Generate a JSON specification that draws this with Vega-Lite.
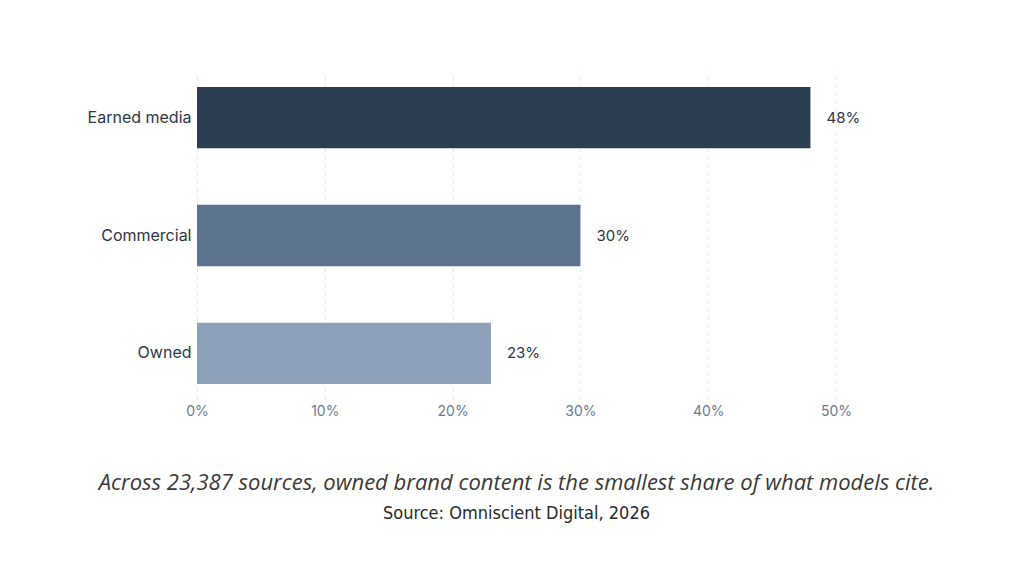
{
  "$schema": "https://vega.github.io/schema/vega-lite/v6.json",
  "width": 639,
  "height": 329,
  "autosize": {"type": "none"},
  "padding": {"left": 197, "top": 71, "right": 188, "bottom": 176},
  "background": "white",
  "data": {"values": [
    {"category": "Earned media", "share": 0.48},
    {"category": "Commercial", "share": 0.30},
    {"category": "Owned", "share": 0.23}
  ]},
  "title": {
    "text": "Across 23,387 sources, owned brand content is the smallest share of what models cite.",
    "subtitle": "Source: Omniscient Digital, 2026",
    "orient": "bottom",
    "anchor": "middle",
    "frame": "group",
    "offset": 55,
    "font": "Open Sans",
    "fontStyle": "italic",
    "fontWeight": "normal",
    "fontSize": 22,
    "color": "#3a3a3a",
    "subtitleFont": "DejaVu Sans Condensed, Roboto Condensed, Liberation Sans Narrow, sans-serif",
    "subtitleFontSize": 18,
    "subtitleColor": "#2a2a2a",
    "subtitlePadding": 10
  },
  "encoding": {
    "y": {
      "field": "category",
      "type": "nominal",
      "sort": ["Earned media", "Commercial", "Owned"],
      "scale": {"paddingInner": 0.48, "paddingOuter": 0.136},
      "axis": {
        "title": null,
        "domain": false,
        "ticks": false,
        "labelPadding": 6,
        "labelFont": "Inter",
        "labelFontSize": 16,
        "labelColor": "#2d3748"
      }
    },
    "x": {
      "field": "share",
      "type": "quantitative",
      "scale": {"domain": [0, 0.5], "nice": false},
      "axis": {
        "title": null,
        "format": ".0%",
        "values": [0, 0.1, 0.2, 0.3, 0.4, 0.5],
        "domain": false,
        "ticks": false,
        "grid": true,
        "gridColor": "#e6e8ec",
        "gridDash": [4, 4],
        "gridWidth": 1,
        "labelAlign": "center",
        "labelFlush": false,
        "labelPadding": 4,
        "labelFont": "Inter",
        "labelFontSize": 14,
        "labelColor": "#6b7a90"
      }
    }
  },
  "layer": [
    {
      "mark": {"type": "bar"},
      "encoding": {
        "color": {
          "field": "category",
          "type": "nominal",
          "scale": {
            "domain": ["Earned media", "Commercial", "Owned"],
            "range": ["#2e3e52", "#5d7490", "#8ca0b9"]
          },
          "legend": null
        }
      }
    },
    {
      "mark": {"type": "text", "align": "left", "dx": 16, "font": "Inter", "fontSize": 15, "color": "#2d3748"},
      "encoding": {
        "text": {"field": "share", "type": "quantitative", "format": ".0%"}
      }
    }
  ],
  "config": {"view": {"stroke": null}}
}
